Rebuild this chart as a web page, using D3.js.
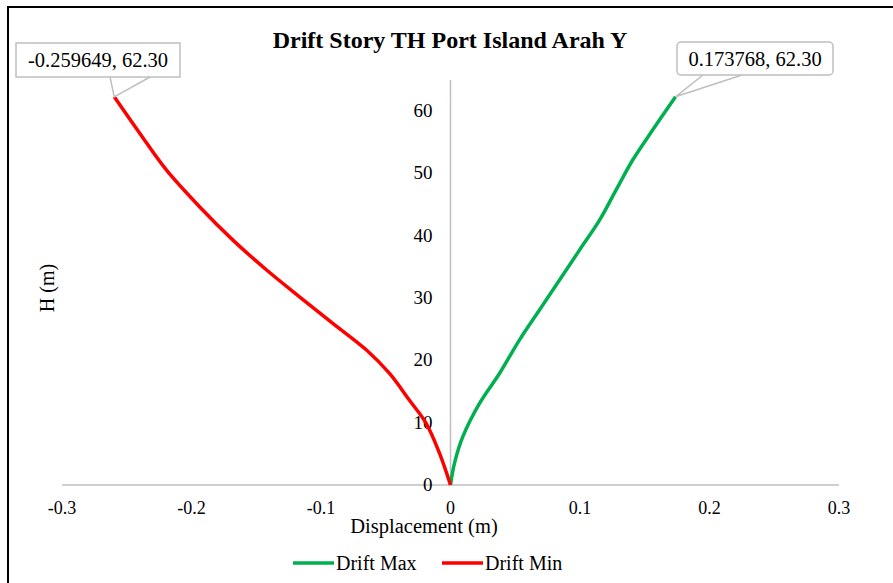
<!DOCTYPE html>
<html>
<head>
<meta charset="utf-8">
<script src="https://cdn.jsdelivr.net/npm/d3@7"></script>
<style>
  body { margin: 0; background: #fff; }
  svg { display: block; }
  text { font-family: "Liberation Serif", "Times New Roman", serif; fill: #000; }
</style>
</head>
<body>
<div id="chart"></div>
<script>
// Story heights (m) and displacements (m)
const heightMax = [0, 3.5, 7.75, 13.1, 17.9, 23.3, 28.1, 32.9, 37.7, 42.5, 47.4, 52.2, 57, 62.3];
const driftMax = [0, 0.0031, 0.0095, 0.0224, 0.0378, 0.0533, 0.0687, 0.0842, 0.0996, 0.1151, 0.128, 0.1408, 0.1562, 0.173768];

const heightMin = [0, 5.1, 9.9, 13.6, 17.9, 21.7, 25.95, 30.2, 34.5, 39.3, 44.7, 50.6, 56.45, 62.3];
const driftMin = [0, -0.0085, -0.0188, -0.0317, -0.0471, -0.0651, -0.0909, -0.1166, -0.142, -0.168, -0.194, -0.2196, -0.240, -0.259649];

const xTicks = [-0.3, -0.2, -0.1, 0, 0.1, 0.2, 0.3];
const yTicks = [0, 10, 20, 30, 40, 50, 60];

const series = [
    { name: "Drift Max", color: "#00b050", x: driftMax, y: heightMax },
    { name: "Drift Min", color: "#ff0000", x: driftMin, y: heightMin }
];

const width = 893, height = 583;
const hyphen = s => s.replace("\u2212", "-"); // Excel uses a plain hyphen

const svg = d3.select("#chart").append("svg")
    .attr("width", width)
    .attr("height", height);

// outer chart border
svg.append("rect")
    .attr("x", 8).attr("y", 7)
    .attr("width", 900).attr("height", 600)
    .attr("fill", "none")
    .attr("stroke", "#000")
    .attr("stroke-width", 2);

const x = d3.scaleLinear().domain([-0.3, 0.3]).range([62, 839]);
const y = d3.scaleLinear().domain([0, 65]).range([485, 80]);

// axis lines through the origin
svg.append("line")
    .attr("x1", x(-0.3)).attr("x2", x(0.3))
    .attr("y1", y(0)).attr("y2", y(0))
    .attr("stroke", "#bfbfbf").attr("stroke-width", 1.5);
svg.append("line")
    .attr("x1", x(0)).attr("x2", x(0))
    .attr("y1", y(0)).attr("y2", y(65))
    .attr("stroke", "#bfbfbf").attr("stroke-width", 1.5);

// tick labels
svg.append("g").selectAll("text")
    .data(xTicks)
    .join("text")
    .attr("x", d => x(d))
    .attr("y", 514)
    .attr("text-anchor", "middle")
    .style("font-size", "18px")
    .text(d => hyphen(d3.format("")(d)));

svg.append("g").selectAll("text")
    .data(yTicks)
    .join("text")
    .attr("x", x(0) - 18)
    .attr("y", d => y(d) + 6)
    .attr("text-anchor", "end")
    .style("font-size", "19px")
    .text(d => d);

// titles
svg.append("text")
    .attr("x", 450).attr("y", 48)
    .attr("text-anchor", "middle")
    .style("font-size", "24px")
    .style("font-weight", "bold")
    .text("Drift Story TH Port Island Arah Y");

svg.append("text")
    .attr("x", 424).attr("y", 533)
    .attr("text-anchor", "middle")
    .style("font-size", "20.5px")
    .text("Displacement (m)");

svg.append("text")
    .attr("transform", "translate(54,288) rotate(-90)")
    .attr("text-anchor", "middle")
    .style("font-size", "20px")
    .text("H (m)");

// curves
const line = d3.line()
    .x(d => x(d[0]))
    .y(d => y(d[1]))
    .curve(d3.curveCatmullRom.alpha(0.5));

svg.append("g").selectAll("path")
    .data(series)
    .join("path")
    .attr("d", s => line(s.x.map((v, i) => [v, s.y[i]])))
    .attr("fill", "none")
    .attr("stroke", s => s.color)
    .attr("stroke-width", 3.5);

// data callouts at the top point of each series
const callouts = [
    { s: series[1], box: [16, 43, 164, 34], base: [110, 150], r: 0 },
    { s: series[0], box: [677, 42, 156, 33], base: [703, 742], r: 4 }
];

callouts.forEach(c => {
    const last = c.s.x.length - 1;
    const px = x(c.s.x[last]), py = y(c.s.y[last]);
    const [bx, by, bw, bh] = c.box;
    const g = svg.append("g");
    g.append("path")
        .attr("d", `M${c.base[0]},${by + bh}L${px},${py}L${c.base[1]},${by + bh}`)
        .attr("fill", "#fff")
        .attr("stroke", "#bfbfbf")
        .attr("stroke-width", 1.5);
    g.append("rect")
        .attr("x", bx).attr("y", by)
        .attr("width", bw).attr("height", bh)
        .attr("rx", c.r)
        .attr("fill", "#fff")
        .attr("stroke", "#bfbfbf")
        .attr("stroke-width", 1.5);
    g.append("text")
        .attr("x", bx + bw / 2).attr("y", by + bh / 2 + 7)
        .attr("text-anchor", "middle")
        .style("font-size", "20.5px")
        .text(`${hyphen(d3.format(".6f")(c.s.x[last]))}, ${d3.format(".2f")(c.s.y[last])}`);
});

// legend
const legend = svg.append("g").selectAll("g")
    .data(series)
    .join("g")
    .attr("transform", (d, i) => `translate(${293 + i * 149},563)`);
legend.append("line")
    .attr("x1", 0).attr("x2", 41)
    .attr("stroke", d => d.color)
    .attr("stroke-width", 3.5);
legend.append("text")
    .attr("x", 43).attr("y", 7)
    .style("font-size", "20px")
    .text(d => d.name);
</script>
</body>
</html>
